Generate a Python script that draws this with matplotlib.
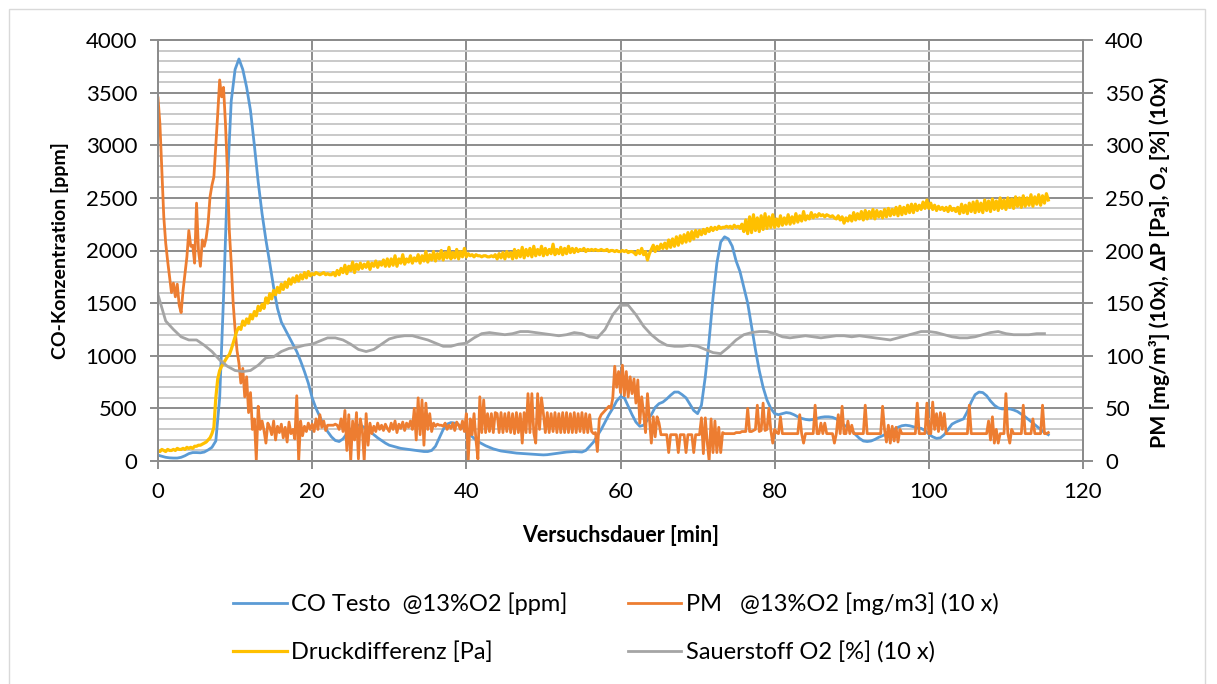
import numpy as np
import matplotlib
matplotlib.use("Agg")
import matplotlib.pyplot as plt
from matplotlib.ticker import MultipleLocator
from matplotlib.patches import Rectangle

plt.rcParams['font.family'] = ['Lato', 'DejaVu Sans']

# ---------------- data ----------------
# time grids [min]
t_co = np.arange(0, 115.6, 0.5)     # CO sampled every 0.5 min
t_o2 = np.arange(0, 116, 1.0)       # O2 every 1 min
t_q = np.arange(0, 115.6, 0.25)     # PM and dP every 0.25 min

co_ppm = [
    55, 45, 35, 30, 28, 28, 35, 50, 70, 80,
    80, 78, 85, 105, 130, 190, 600, 1550, 2650, 3420,
    3720, 3820, 3720, 3550, 3330, 3000, 2650, 2350, 2100, 1880,
    1650, 1450, 1320, 1250, 1180, 1110, 1040, 950, 850, 740,
    600, 500, 420, 340, 280, 230, 195, 185, 210, 260,
    300, 330, 340, 330, 310, 280, 250, 220, 195, 170,
    150, 140, 130, 120, 115, 110, 105, 100, 95, 90,
    90, 100, 140, 220, 300, 350, 365, 360, 345, 320,
    290, 250, 215, 185, 165, 145, 130, 115, 105, 95,
    90, 85, 80, 75, 72, 70, 68, 65, 62, 60,
    58, 60, 65, 70, 75, 80, 85, 88, 90, 88,
    85, 100, 140, 180, 240, 300, 370, 440, 500, 570,
    610, 600, 520, 440, 370, 330, 340, 390, 440, 510,
    545, 560, 590, 625, 655, 655, 630, 600, 540, 480,
    450, 530, 800, 1150, 1550, 1880, 2080, 2130, 2110, 2040,
    1900, 1800, 1650, 1500, 1280, 1060, 860, 700, 580, 500,
    450, 440, 450, 460, 455, 440, 420, 405, 395, 390,
    395, 405, 415, 420, 420, 415, 400, 370, 340, 320,
    290, 250, 215, 190, 185, 190, 205, 225, 240, 260,
    280, 300, 320, 335, 340, 335, 325, 315, 310, 290,
    255, 230, 215, 220, 250, 300, 350, 370, 385, 400,
    470, 560, 630, 655, 650, 620, 570, 530, 505, 495,
    495, 495, 485, 470, 445, 420, 390, 360, 330, 300,
    270, 250,
]

dp_pa = [
    10, 9, 11, 10, 9, 11, 10, 10,
    11, 10, 12, 11, 11, 12, 11, 13,
    12, 13, 12, 14, 14, 15, 15, 16,
    17, 18, 20, 22, 26, 32, 60, 78,
    86, 90, 93, 96, 99, 101, 106, 112,
    118, 124, 127, 125, 133, 129, 135, 131,
    139, 135, 142, 138, 147, 143, 149, 145,
    155, 150, 159, 154, 162, 158, 165, 160,
    168, 163, 170, 165, 173, 168, 174, 170,
    176, 171, 177, 173, 179, 174, 180, 176,
    178, 177, 179, 178, 177, 178, 179, 177,
    178, 177, 177, 179, 176, 181, 177, 183,
    179, 186, 178, 185, 181, 189, 179, 187,
    182, 188, 183, 187, 184, 189, 182, 188,
    185, 190, 184, 189, 186, 191, 185, 192,
    185, 192, 186, 195, 185, 192, 188, 196,
    187, 192, 189, 195, 188, 193, 190, 196,
    188, 195, 190, 199, 189, 196, 191, 199,
    190, 197, 192, 200, 191, 198, 193, 203,
    192, 198, 193, 201, 192, 199, 194, 202,
    194, 197, 195, 196, 194, 196, 195, 195,
    194, 195, 195, 194, 194, 195, 194, 196,
    192, 197, 193, 198, 192, 199, 194, 198,
    192, 201, 193, 200, 194, 203, 193, 201,
    195, 202, 194, 204, 195, 201, 196, 204,
    195, 202, 196, 201, 197, 206, 196, 201,
    197, 203, 196, 202, 197, 204, 198, 202,
    198, 202, 199, 201, 200, 202, 199, 201,
    200, 201, 200, 201, 200, 200, 201, 200,
    200, 201, 199, 200, 200, 199, 200, 199,
    199, 200, 199, 200, 198, 199, 199, 198,
    196, 200, 197, 202, 196, 199, 191, 197,
    201, 205, 199, 204, 201, 206, 202, 207,
    202, 210, 203, 211, 204, 213, 205, 214,
    207, 215, 208, 217, 209, 218, 211, 219,
    213, 219, 215, 220, 216, 221, 218, 222,
    219, 222, 220, 223, 221, 222, 222, 223,
    222, 223, 221, 224, 222, 223, 221, 225,
    218, 229, 216, 232, 217, 234, 219, 231,
    218, 233, 220, 235, 221, 232, 222, 234,
    222, 230, 223, 233, 224, 231, 225, 234,
    225, 232, 226, 235, 227, 233, 228, 237,
    229, 233, 230, 236, 231, 234, 232, 235,
    233, 234, 232, 234, 233, 232, 233, 231,
    230, 233, 229, 232, 226, 231, 228, 233,
    228, 236, 229, 235, 230, 237, 229, 238,
    230, 237, 231, 239, 230, 238, 232, 237,
    231, 239, 232, 240, 233, 239, 234, 241,
    233, 242, 234, 241, 235, 243, 236, 244,
    236, 244, 238, 243, 239, 246, 240, 248,
    240, 245, 239, 243, 238, 242, 239, 241,
    238, 241, 237, 242, 238, 240, 237, 241,
    235, 244, 236, 243, 235, 245, 237, 246,
    236, 247, 237, 245, 236, 248, 238, 247,
    237, 249, 239, 247, 238, 250, 240, 248,
    239, 250, 241, 249, 240, 251, 242, 250,
    241, 252, 242, 250, 243, 253, 242, 251,
    244, 253, 243, 252, 245, 254, 248,
]

o2_x10 = [
    158, 133, 125, 118, 115, 115, 110, 104, 96, 90,
    86, 85, 86, 91, 98, 99, 104, 107, 108, 110,
    111, 114, 117, 117, 115, 111, 106, 104, 106, 111,
    116, 118, 119, 119, 117, 115, 112, 109, 109, 111,
    112, 117, 121, 122, 121, 120, 121, 123, 123, 122,
    121, 120, 119, 120, 122, 121, 118, 117, 125, 139,
    148, 148, 139, 128, 120, 114, 110, 109, 109, 110,
    109, 106, 103, 102, 108, 115, 120, 122, 123, 123,
    121, 118, 117, 118, 119, 118, 117, 118, 119, 119,
    118, 119, 118, 117, 116, 115, 117, 119, 121, 123,
    123, 122, 120, 118, 117, 117, 118, 120, 122, 123,
    121, 120, 120, 120, 121, 121,
]

pm_x10 = [
    345, 320, 276, 232, 207, 190, 175, 160,
    169, 156, 168, 148, 141, 162, 178, 194,
    219, 204, 205, 188, 245, 200, 185, 210,
    204, 212, 226, 251, 262, 270, 300, 330,
    362, 346, 355, 321, 276, 219, 188, 150,
    125, 105, 93, 74, 88, 61, 80, 46,
    65, 30, 40, 1, 52, 30, 38, 29,
    17, 36, 32, 25, 38, 20, 33, 27,
    35, 22, 32, 18, 37, 26, 30, 21,
    62, 0, 38, 24, 33, 28, 36, 30,
    35, 28, 40, 30, 44, 32, 38, 29,
    34, 34, 34, 34, 35, 34, 30, 40,
    28, 48, 10, 44, 0, 38, 20, 46,
    2, 40, 30, 0, 45, 15, 36, 26,
    33, 28, 36, 30, 34, 29, 35, 31,
    28, 36, 30, 38, 27, 35, 31, 37,
    29, 36, 32, 38, 30, 50, 20, 60,
    25, 58, 15, 55, 30, 45, 28, 36,
    33, 35, 34, 34, 33, 36, 30, 34,
    31, 36, 29, 37, 34, 30, 38, 28,
    45, 1, 40, 25, 45, 20, 2, 61,
    27, 58, 27, 45, 28, 45, 27, 46,
    45, 27, 46, 27, 45, 28, 46, 27,
    45, 26, 46, 27, 45, 17, 46, 27,
    64, 27, 64, 27, 17, 64, 30, 60,
    45, 27, 46, 27, 45, 28, 46, 27,
    45, 27, 46, 27, 46, 27, 45, 27,
    46, 27, 45, 28, 46, 27, 45, 27,
    44, 28, 26, 27, 9, 40, 44, 46,
    48, 50, 52, 50, 60, 90, 70, 85,
    65, 91, 62, 85, 61, 80, 64, 78,
    55, 77, 36, 61, 45, 27, 64, 40,
    17, 42, 23, 42, 36, 25, 25, 25,
    25, 8, 25, 25, 25, 25, 8, 25,
    25, 25, 8, 25, 25, 25, 8, 25,
    25, 25, 41, 7, 41, 18, 0, 40,
    8, 38, 8, 32, 8, 27, 26, 26,
    26, 26, 26, 26, 27, 27, 27, 28,
    28, 28, 50, 28, 28, 29, 30, 53,
    28, 29, 55, 29, 30, 50, 29, 17,
    30, 27, 26, 42, 26, 26, 26, 26,
    26, 26, 26, 26, 26, 44, 26, 17,
    26, 26, 26, 26, 26, 53, 26, 26,
    36, 26, 36, 26, 26, 26, 26, 17,
    26, 44, 26, 52, 26, 26, 38, 26,
    34, 26, 26, 26, 26, 26, 26, 53,
    26, 26, 26, 26, 26, 26, 26, 26,
    52, 30, 18, 34, 17, 33, 19, 32,
    18, 30, 26, 26, 26, 26, 26, 26,
    26, 26, 55, 26, 26, 26, 26, 55,
    26, 26, 56, 30, 45, 28, 46, 30,
    45, 26, 26, 26, 26, 26, 26, 26,
    26, 26, 26, 26, 26, 53, 26, 26,
    26, 26, 26, 26, 26, 26, 26, 38,
    20, 42, 17, 30, 17, 26, 26, 26,
    64, 26, 17, 30, 26, 26, 26, 26,
    26, 53, 26, 26, 26, 26, 40, 26,
    26, 26, 26, 53, 26, 26, 27,
]

labels = ["CO Testo  @13%O2 [ppm]", "PM   @13%O2 [mg/m3] (10 x)",
          "Druckdifferenz [Pa]", "Sauerstoff O2 [%] (10 x)"]
colors = ["#5B9BD5", "#ED7D31", "#FFC000", "#A5A5A5"]

x_ticks = [0, 20, 40, 60, 80, 100, 120]
left_ticks = [0, 500, 1000, 1500, 2000, 2500, 3000, 3500, 4000]
right_ticks = [0, 50, 100, 150, 200, 250, 300, 350, 400]

# ---------------- figure ----------------
W, H = 1217, 684
fig = plt.figure(figsize=(W / 100, H / 100), dpi=100)
ax1 = fig.add_axes([158 / W, 1 - 461 / H, 925 / W, 421 / H])
ax2 = ax1.twinx()

grid_dark = "#8C8C8C"
grid_light = "#C9C9C9"

ax1.set_xlim(0, 120)
ax1.set_ylim(0, 4000)
ax2.set_ylim(0, 400)
ax1.set_xticks(x_ticks)
ax1.set_yticks(left_ticks)
ax2.set_yticks(right_ticks)
ax1.yaxis.set_minor_locator(MultipleLocator(100))
ax1.set_axisbelow(True)
ax1.grid(which="minor", axis="y", color=grid_light, lw=1.4)
ax1.grid(which="major", axis="y", color=grid_dark, lw=1.4)
ax1.grid(which="major", axis="x", color=grid_dark, lw=1.4)
ax1.tick_params(which="minor", length=0)

lw = 2.0
l_co, = ax1.plot(t_co, co_ppm, color=colors[0], lw=lw, label=labels[0])
l_pm, = ax2.plot(t_q, pm_x10, color=colors[1], lw=lw, label=labels[1])
l_dp, = ax2.plot(t_q, dp_pa, color=colors[2], lw=2.3, label=labels[2])
l_o2, = ax2.plot(t_o2, o2_x10, color=colors[3], lw=lw, label=labels[3])

for ax in (ax1, ax2):
    for s in ax.spines.values():
        s.set_color(grid_dark)
        s.set_linewidth(1.4)

ax1.tick_params(axis="both", which="major", labelsize=16, color=grid_dark,
                width=1.4, length=6)
ax1.tick_params(axis="y", pad=9)
ax1.tick_params(axis="x", pad=9)
ax2.tick_params(axis="y", which="major", labelsize=16, color=grid_dark,
                width=1.4, length=7, pad=9)

ax1.set_xlabel("Versuchsdauer [min]", fontsize=15.5, fontweight="bold")
ax1.xaxis.set_label_coords(0.5, -0.176)
ax1.xaxis.label.set_va("center")
ax1.set_ylabel("CO-Konzentration [ppm]", fontsize=14, fontweight="bold")
ax1.yaxis.set_label_coords(-0.106, 0.5)
ax1.yaxis.label.set_va("center")
ax2.set_ylabel("PM [mg/m³] (10x), ΔP [Pa], O₂ [%] (10x)", fontsize=15.3,
               fontweight="bold", family=["Lato", "DejaVu Sans"])
ax2.yaxis.set_label_coords(1.083, 0.472)
ax2.yaxis.label.set_va("center")

fig.legend([l_co, l_dp, l_pm, l_o2], [labels[0], labels[2], labels[1], labels[3]],
           ncol=2, loc="center", bbox_to_anchor=(616 / W, 1 - 628 / H),
           frameon=False, fontsize=17, handlelength=2.25, handletextpad=0.2,
           columnspacing=2.55, labelspacing=1.1)

fig.patches.append(Rectangle((9 / W, -0.01), (1205 - 9) / W, 1.01 - 9 / H,
                             transform=fig.transFigure, fill=False,
                             ec="#D9D9D9", lw=1.0))

fig.savefig("out.png", dpi=100)
